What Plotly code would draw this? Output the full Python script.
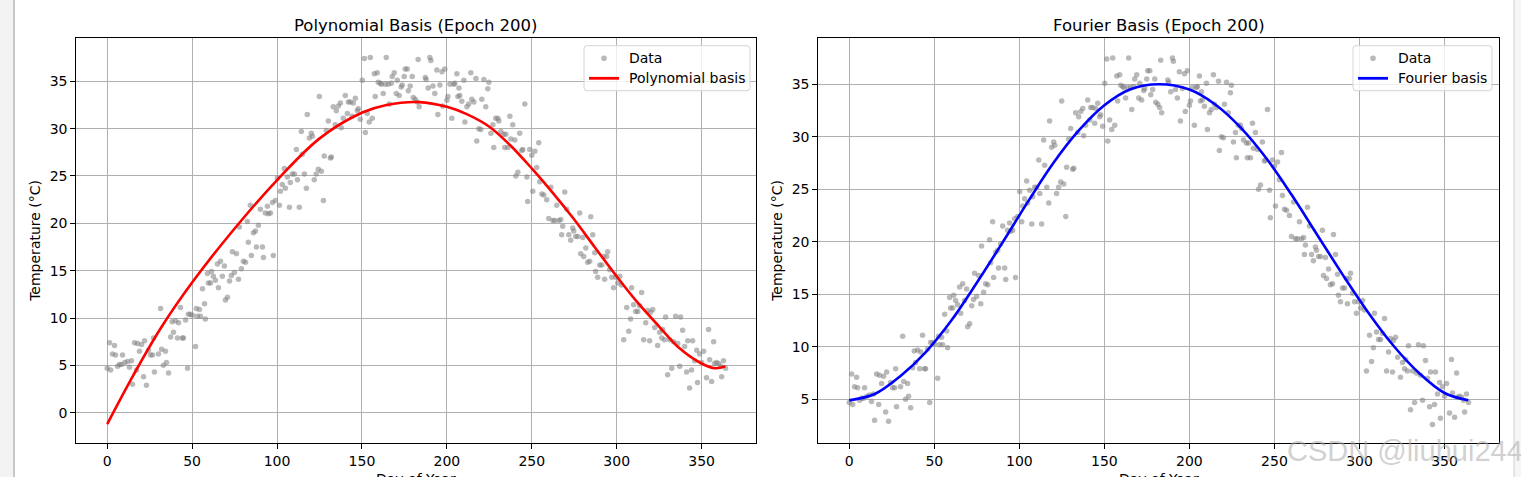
import plotly.graph_objects as go

W, H = 1521, 477

# ---------------- data ----------------
day = [0.0, 1.4, 2.0, 3.1, 4.3, 4.9, 6.1, 7.3, 9.0, 8.4, 10.4, 12.0, 13.1, 14.3, 14.9, 16.1, 17.3, 17.8,
       19.0, 20.2, 21.4, 22.0, 23.1, 24.3, 25.5, 26.7, 27.3, 27.8, 30.2, 31.4, 32.0, 33.1, 34.3, 34.9,
       36.1, 37.3, 38.2, 39.0, 40.2, 41.4, 42.0, 43.1, 44.3, 44.9, 46.1, 47.3, 47.8, 49.0, 50.2, 52.0,
       52.5, 53.1, 54.3, 54.9, 56.1, 57.3, 57.8, 59.0, 59.6, 60.8, 61.4, 62.5, 63.7, 64.9, 65.5, 66.7,
       67.8, 69.0, 69.6, 70.8, 72.0, 73.1, 73.7, 74.9, 76.1, 77.3, 77.8, 79.0, 80.2, 81.4, 82.5, 83.1,
       84.3, 84.9, 86.1, 87.3, 87.8, 89.0, 90.2, 91.4, 92.0, 93.1, 94.3, 94.9, 96.1, 97.3, 97.8, 99.0,
       100.2, 101.4, 102.0, 103.1, 104.3, 104.9, 106.1, 107.3, 107.8, 109.0, 110.2, 111.4, 112.0, 113.1,
       114.3, 114.9, 116.1, 117.3, 117.8, 119.0, 120.2, 120.8, 121.9, 123.1, 124.3, 124.9, 126.1, 127.3,
       127.8, 129.0, 130.2, 131.4, 132.0, 133.1, 134.3, 134.9, 136.1, 137.3, 137.8, 139.0, 140.2, 141.4,
       142.0, 143.1, 144.3, 144.9, 146.1, 147.3, 147.8, 149.0, 150.2, 151.4, 152.0, 153.1, 154.3, 154.9,
       156.1, 157.3, 157.8, 159.0, 159.6, 160.8, 161.4, 162.5, 163.7, 164.3, 165.5, 166.1, 167.3, 167.8,
       169.0, 170.2, 170.8, 171.9, 173.1, 173.7, 174.9, 175.5, 176.7, 177.3, 178.4, 179.6, 180.2, 181.4,
       182.5, 183.1, 183.7,
       187.3, 187.8, 189.0, 190.0, 190.6, 191.8, 192.9, 194.1, 194.7, 195.9, 197.1, 197.6, 198.8, 200.0,
       200.6, 201.8, 202.9, 204.1, 204.7, 205.9, 206.5, 207.1, 207.6, 208.8, 210.0, 210.6, 211.8, 212.9,
       214.1, 214.7, 215.9, 217.1, 217.6, 218.8, 220.0, 220.6, 221.8, 222.9, 224.1, 224.7, 225.9, 227.1,
       227.6, 228.8, 230.0, 230.6, 231.8, 233.5, 234.1, 234.7, 235.9, 237.1, 237.6, 238.8, 240.0, 240.6,
       241.8, 242.9, 244.1, 244.7, 245.9, 247.1, 247.6, 248.8, 250.0, 250.6, 251.8, 252.9, 254.1, 254.7,
       255.9, 257.1, 258.8, 260.0, 261.2, 262.4, 263.5, 264.7, 265.9, 267.1, 267.6, 268.2, 269.4, 270.6,
       271.8, 272.9, 274.1, 274.7, 275.9, 277.1, 278.2, 278.8, 280.0, 280.6, 281.8, 282.9, 284.1, 284.7,
       285.9, 287.1, 287.6, 288.8, 290.0, 291.2, 292.4, 292.9, 294.1, 294.7, 295.9, 297.1, 298.2, 299.4,
       300.6, 301.8, 302.9, 304.1, 305.9, 307.1, 308.2, 308.8, 310.0, 311.2, 312.4, 313.5, 314.7, 315.9,
       317.1, 318.2, 319.4, 320.0, 321.2, 322.4, 324.1, 325.3, 326.5, 327.1, 328.2, 328.8, 330.0, 331.2,
       332.4, 333.5, 334.7, 335.9, 337.1, 337.6, 338.8, 340.0, 341.2, 341.8, 342.9, 344.1, 344.7, 345.9,
       347.1, 347.6, 348.8, 350.0, 351.2, 352.9, 354.1, 354.7, 355.9, 357.1, 357.6, 358.8, 360.0, 361.2,
       361.8, 362.9, 364.1]

temp = [4.7, 7.4, 4.5, 6.2, 7.1, 6.1, 4.9, 5.1, 6.1, 5.1, 5.3, 5.4, 4.8, 5.5, 3.0, 7.4, 4.5, 7.3,
        6.5, 7.2, 3.8, 7.6, 2.9, 6.6, 6.1, 6.1, 7.9, 4.3, 6.2, 11.0, 6.7, 5.0, 6.5, 5.3,
        4.2, 8.0, 9.6, 8.5, 9.7, 7.9, 9.5, 11.1, 7.9, 7.9, 9.8, 4.7, 10.4, 10.4, 10.3, 7.0,
        11.0, 10.2, 10.9, 10.2, 13.1, 11.5, 9.9, 14.7, 13.7, 13.7, 14.9, 14.4, 14.0, 15.7, 13.2, 16.0,
        14.4, 15.5, 11.9, 12.2, 13.9, 14.5, 17.0, 14.8, 16.8, 14.1, 19.6, 15.2, 16.0, 15.9, 20.2, 18.0,
        21.9, 16.6, 19.0, 19.2, 17.5, 19.8, 21.5, 17.5, 16.4, 21.1, 21.8, 21.0, 21.1, 22.2, 16.6, 22.4,
        24.8, 21.9, 23.4, 24.1, 25.8, 23.7, 24.9, 21.7, 24.3, 25.2, 25.2, 27.8, 24.6, 21.7,
        29.7, 27.3, 25.2, 23.7, 31.5, 29.0, 29.5, 29.2, 24.6, 25.2, 25.7, 33.4, 25.5, 22.4,
        27.1, 29.8, 30.8, 26.9, 27.0, 32.3, 30.4, 31.9, 32.4, 32.7, 30.1, 31.1, 33.5, 31.6,
        32.8, 32.8, 31.3, 32.7, 33.2, 31.9, 32.1, 31.0, 35.1, 37.4, 29.6, 31.6, 30.7, 37.5,
        31.1, 35.8, 33.4, 35.9, 34.9, 34.8, 34.7, 33.7, 34.7, 37.5, 34.7, 32.6, 34.8, 35.5,
        35.9, 33.7, 35.1, 33.5, 34.4, 34.6, 35.5, 36.3, 36.3, 34.0, 34.5, 35.5, 33.3, 33.1,
        32.8, 37.3, 32.3,
        35.4, 35.2, 34.3, 37.5, 37.2, 34.5, 33.7, 36.2, 31.5, 34.6, 36.0, 32.4, 36.3, 33.0,
        33.4, 34.7, 31.1, 34.7, 34.8, 35.8, 33.4, 34.3, 33.5, 32.9, 35.1, 30.7, 32.3, 32.6,
        35.9, 33.1, 32.8, 35.3, 28.7, 30.0, 29.9, 33.1, 35.2, 32.3, 34.2, 34.9, 29.5, 30.4,
        28.0, 31.1, 31.1, 30.8, 29.7, 29.4, 28.0, 29.4, 28.0, 31.3, 28.9, 30.4, 28.8, 25.0,
        25.4, 29.5, 27.7, 27.8, 32.6, 24.9, 22.3, 27.8, 27.2, 23.4, 27.6, 25.9, 28.5, 24.4,
        23.1, 23.0, 22.5, 20.5, 23.8, 20.3, 20.3, 21.9, 20.3, 20.4, 18.8, 19.7, 23.3, 21.5,
        18.8, 18.2, 19.5, 19.2, 18.6, 18.6, 21.1, 16.8, 18.5, 16.5, 17.4, 15.9, 16.0, 20.7,
        18.8, 16.9, 14.9, 14.3, 15.6, 15.6, 16.5, 14.1, 16.5, 17.0, 15.1, 14.3, 13.2, 14.3,
        13.7, 14.4, 13.5, 7.7, 11.1, 8.6, 9.9, 13.2, 11.4, 10.7, 10.7, 11.3, 12.7, 7.7,
        9.5, 10.8, 7.6, 10.6, 10.9, 9.0, 7.1, 8.5, 7.9, 8.8, 7.7, 10.1, 4.0, 7.7,
        4.7, 7.5, 10.2, 7.3, 4.9, 10.1, 8.7, 7.0, 4.3, 7.6, 2.6, 4.5, 7.6, 5.5,
        6.6, 3.2, 6.2, 5.3, 6.5, 3.7, 8.8, 5.6, 3.3, 7.5, 5.2, 5.3, 5.2, 4.9,
        3.8, 5.5, 4.7]

# fitted curves
poly_day = [0, 15.5, 31.4, 50.2, 74.3, 100.2, 125.3, 150.2, 164.5, 183.7, 200, 212, 225, 237, 250, 262,
            275, 287, 300, 312, 325, 337, 350, 358, 364]
poly_temp = [-1.2, 4.0, 8.9, 13.8, 19.3, 24.6, 29.0, 31.7, 32.5, 32.8, 32.3, 31.5, 30.2, 28.3, 25.8, 23.3,
             20.4, 17.5, 14.4, 11.7, 9.1, 6.8, 5.2, 4.7, 4.9]

four_day = [0, 15, 30, 45, 60, 75, 90, 105, 120, 135, 150, 165, 182, 200, 215, 230, 245, 260, 275, 290,
            305, 320, 335, 350, 364]
four_temp = [4.9, 5.5, 7.2, 9.5, 12.5, 16.1, 19.9, 23.8, 27.5, 30.6, 33.0, 34.5, 35.0, 34.5, 33.1, 30.9,
             28.0, 24.5, 20.7, 16.9, 13.3, 10.1, 7.5, 5.6, 4.9]

x_ticks = [0, 50, 100, 150, 200, 250, 300, 350]
y_ticks_left = [0, 5, 10, 15, 20, 25, 30, 35]
y_ticks_right = [5, 10, 15, 20, 25, 30, 35]

titles = ["Polynomial Basis (Epoch 200)", "Fourier Basis (Epoch 200)"]
legend_labels = [["Data", "Polynomial basis"], ["Data", "Fourier basis"]]
line_colors = ["red", "blue"]

# ---------------- layout helpers ----------------
def px(x):
    return x / W

def py(y):
    return 1 - y / H

FONT = "DejaVu Sans"
L1, R1 = 76.3, 756.3
L2, R2 = 818.3, 1499.3
TOP, BOT = 38.3, 443.3
DOT_COLOR = "rgba(128,128,128,0.55)"

fig = go.Figure()

marker = dict(color=DOT_COLOR, size=5.5, line=dict(width=0))

fig.add_trace(go.Scatter(x=day, y=temp, mode="markers", marker=marker, name="Data",
                         xaxis="x", yaxis="y"))
fig.add_trace(go.Scatter(x=poly_day, y=poly_temp, mode="lines",
                         line=dict(color=line_colors[0], width=2.6, shape="spline", smoothing=1.0),
                         name="Polynomial basis", xaxis="x", yaxis="y"))
fig.add_trace(go.Scatter(x=day, y=temp, mode="markers", marker=marker, name="Data",
                         xaxis="x2", yaxis="y2"))
fig.add_trace(go.Scatter(x=four_day, y=four_temp, mode="lines",
                         line=dict(color=line_colors[1], width=2.6, shape="spline", smoothing=1.0),
                         name="Fourier basis", xaxis="x2", yaxis="y2"))

axis_common = dict(
    showline=True, mirror=True, linecolor="black", linewidth=1,
    showgrid=True, gridcolor="#b0b0b0", gridwidth=0.8, zeroline=False,
    ticks="outside", ticklen=5, tickwidth=1, tickcolor="black",
    tickfont=dict(family=FONT, size=14, color="black"),
)

fig.update_layout(
    width=W, height=H,
    margin=dict(l=0, r=0, t=0, b=0),
    paper_bgcolor="white", plot_bgcolor="white",
    font=dict(family=FONT, size=14, color="black"),
    showlegend=False,
    xaxis=dict(domain=[px(L1), px(R1)], range=[-18.2, 382.2], tickvals=x_ticks, anchor="y", **axis_common),
    yaxis=dict(domain=[py(BOT), py(TOP)], range=[-3.23, 39.54], tickvals=y_ticks_left, anchor="x", **axis_common),
    xaxis2=dict(domain=[px(L2), px(R2)], range=[-18.2, 382.2], tickvals=x_ticks, anchor="y2", **axis_common),
    yaxis2=dict(domain=[py(BOT), py(TOP)], range=[0.81, 39.38], tickvals=y_ticks_right, anchor="x2", **axis_common),
)

annotations = []
shapes = []
for (l, r), t in zip([(L1, R1), (L2, R2)], titles):
    cx = px((l + r) / 2)
    annotations.append(dict(text=t, x=cx, y=py(25), xref="paper", yref="paper",
                            xanchor="center", yanchor="middle", showarrow=False,
                            font=dict(family=FONT, size=16.5, color="black")))
    annotations.append(dict(text="Day of Year", x=cx, y=py(469), xref="paper", yref="paper",
                            xanchor="center", yanchor="top", showarrow=False,
                            font=dict(family=FONT, size=14, color="black")))
for xl in [35, 777]:
    annotations.append(dict(text="Temperature (°C)", x=px(xl), y=py((TOP + BOT) / 2), xref="paper", yref="paper",
                            xanchor="center", yanchor="middle", textangle=-90, showarrow=False,
                            font=dict(family=FONT, size=14, color="black")))


# ---------------- legends (matplotlib style, drawn in pixel positions) ----------------
def rounded_rect(x0, y0, x1, y1, r):
    pts = [
        f"M {px(x0 + r)},{py(y0)}",
        f"L {px(x1 - r)},{py(y0)}",
        f"Q {px(x1)},{py(y0)} {px(x1)},{py(y0 + r)}",
        f"L {px(x1)},{py(y1 - r)}",
        f"Q {px(x1)},{py(y1)} {px(x1 - r)},{py(y1)}",
        f"L {px(x0 + r)},{py(y1)}",
        f"Q {px(x0)},{py(y1)} {px(x0)},{py(y1 - r)}",
        f"L {px(x0)},{py(y0 + r)}",
        f"Q {px(x0)},{py(y0)} {px(x0 + r)},{py(y0)}",
        "Z",
    ]
    return " ".join(pts)


for (bx0, bx1), labels, col in zip([(584, 750), (1353, 1492)], legend_labels, line_colors):
    shapes.append(dict(type="path", xref="paper", yref="paper", path=rounded_rect(bx0, 45.7, bx1, 90.7, 3),
                       fillcolor="rgba(255,255,255,0.8)", line=dict(color="#d6d6d6", width=1)))
    mx, my, rr = bx0 + 20, 58.2, 2.8
    shapes.append(dict(type="circle", xref="paper", yref="paper",
                       x0=px(mx - rr), x1=px(mx + rr), y0=py(my + rr), y1=py(my - rr),
                       fillcolor=DOT_COLOR, line=dict(width=0)))
    shapes.append(dict(type="line", xref="paper", yref="paper",
                       x0=px(bx0 + 5), x1=px(bx0 + 35), y0=py(78.3), y1=py(78.3),
                       line=dict(color=col, width=2.8)))
    for lab, yy in zip(labels, [57.5, 78.0]):
        annotations.append(dict(text=lab, x=px(bx0 + 42.5), y=py(yy), xref="paper", yref="paper",
                                xanchor="left", yanchor="middle", showarrow=False,
                                font=dict(family=FONT, size=14, color="black")))

annotations.append(dict(text="CSDN @liuhui244", x=px(1285), y=py(451), xref="paper", yref="paper",
                        xanchor="left", yanchor="middle", showarrow=False,
                        font=dict(family="Liberation Sans", size=29, color="rgba(170,170,170,0.55)")))

# screenshot borders (neighbouring windows)
shapes += [
    dict(type="rect", xref="paper", yref="paper", x0=0, x1=px(14), y0=0, y1=1,
         fillcolor="#f3f3f3", line=dict(width=0), layer="below"),
    dict(type="line", xref="paper", yref="paper", x0=px(14), x1=px(14), y0=0, y1=1,
         line=dict(color="#c8c8c8", width=2)),
    dict(type="rect", xref="paper", yref="paper", x0=px(1514), x1=1, y0=0, y1=1,
         fillcolor="#f6f6f6", line=dict(width=0), layer="below"),
    dict(type="line", xref="paper", yref="paper", x0=px(1514), x1=px(1514), y0=0, y1=1,
         line=dict(color="#d0d0d0", width=1)),
]
fig.update_layout(annotations=annotations, shapes=shapes)

fig.write_html("out.html")
